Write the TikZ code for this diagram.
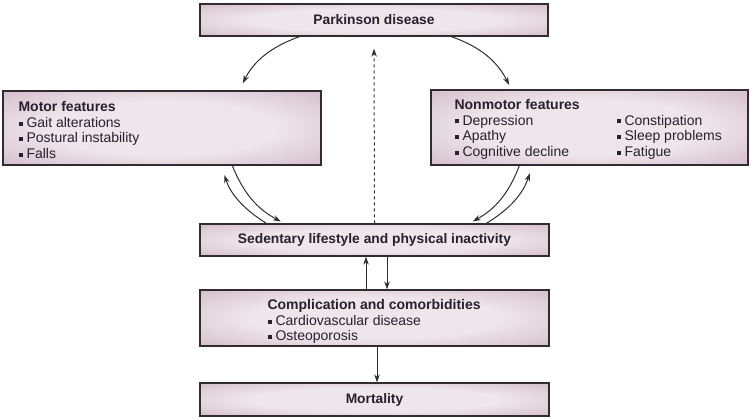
\documentclass[tikz,border=0pt]{standalone}
\usepackage{fontspec}
\setmainfont{Liberation Sans}
\usetikzlibrary{arrows.meta}
\definecolor{boxin}{RGB}{238,230,235}
\definecolor{boxout}{RGB}{192,158,176}
\definecolor{edgec}{RGB}{50,44,50}
\definecolor{ink}{RGB}{40,32,45}
\pgfdeclareradialshading{boxshade}{\pgfpoint{0bp}{0bp}}{color(0bp)=(boxin); color(18bp)=(boxin); color(50bp)=(boxout); color(100bp)=(boxout)}
\newcommand{\bul}{\rule[0.22ex]{4pt}{4pt}\hspace{4pt}}
\begin{document}
\begin{tikzpicture}[x=1pt,y=-1pt,
  box/.style={draw=edgec, line width=1.3pt, shade, shading=boxshade, inner sep=0pt},
  txt/.style={text=ink, font=\fontsize{14}{15.6}\selectfont, inner sep=0pt, align=left},
  ttl/.style={text=ink, font=\fontsize{13.8}{15.6}\selectfont\bfseries, inner sep=0pt},
  arr/.style={draw=edgec, line width=1pt, -{Stealth[length=8pt,width=5.5pt]}}]
\useasboundingbox (0,0) rectangle (751,418);
% boxes
\node[box, minimum width=348pt, minimum height=32pt] (pd) at (374,20) {};
\node[box, minimum width=318pt, minimum height=74pt] (mf) at (162,128) {};
\node[box, minimum width=317pt, minimum height=75pt] (nm) at (589.5,127.5) {};
\node[box, minimum width=349pt, minimum height=32pt] (sl) at (374.5,240) {};
\node[box, minimum width=349pt, minimum height=56pt] (cc) at (374.5,318) {};
\node[box, minimum width=349pt, minimum height=33pt] (mo) at (374.5,399.5) {};
% texts
\node[ttl] (pdt) at (pd.center) {Parkinson disease};
\node[ttl] (slt) at (sl.center) {Sedentary lifestyle and physical inactivity};
\node[ttl] (mot) at (mo.center) {Mortality};
\node[txt, anchor=north west] (mft) at ([xshift=16pt,yshift=-11pt]mf.north west)
  {\textbf{Motor features}\\ \bul Gait alterations\\ \bul Postural instability\\ \bul Falls};
\node[txt, anchor=north west] (nmt) at ([xshift=24pt,yshift=-9pt]nm.north west)
  {\begin{tabular}{@{}p{162pt}@{}l@{}}
   \textbf{Nonmotor features} & \\
   \bul Depression & \bul Constipation\\
   \bul Apathy & \bul Sleep problems\\
   \bul Cognitive decline & \bul Fatigue
   \end{tabular}};
\node[txt, anchor=north west] (cct) at ([xshift=68pt,yshift=-10pt]cc.north west)
  {\textbf{Complication and comorbidities}\\ \bul Cardiovascular disease\\ \bul Osteoporosis};
% arrows
\draw[arr, shorten >=8pt] ([xshift=100pt]pd.south west) to[bend right=22] ([xshift=237pt]mf.north west);
\draw[arr, shorten >=5pt] ([xshift=252pt]pd.south west) to[bend left=22] ([xshift=81pt]nm.north west);
\draw[arr, shorten >=10pt] ([xshift=67pt]sl.north west) to[bend left=20] ([xshift=219pt]mf.south west);
\draw[arr, shorten >=4pt] ([xshift=230pt]mf.south west) to[bend right=20] ([xshift=85pt]sl.north west);
\draw[arr, shorten >=4pt] ([xshift=89pt]nm.south west) to[bend left=20] ([xshift=270pt]sl.north west);
\draw[arr, shorten >=8pt] ([xshift=287pt]sl.north west) to[bend right=20] ([xshift=102pt]nm.south west);
\draw[arr, dashed, shorten >=12pt] (sl.north) -- (pd.south);
\draw[arr] ([xshift=-8.5pt]cc.north) -- ([xshift=-8.5pt]sl.south);
\draw[arr] ([xshift=12.5pt]sl.south) -- ([xshift=12.5pt]cc.north);
\draw[arr] ([xshift=2.5pt]cc.south) -- ([xshift=2.5pt]mo.north);
\end{tikzpicture}
\end{document}
